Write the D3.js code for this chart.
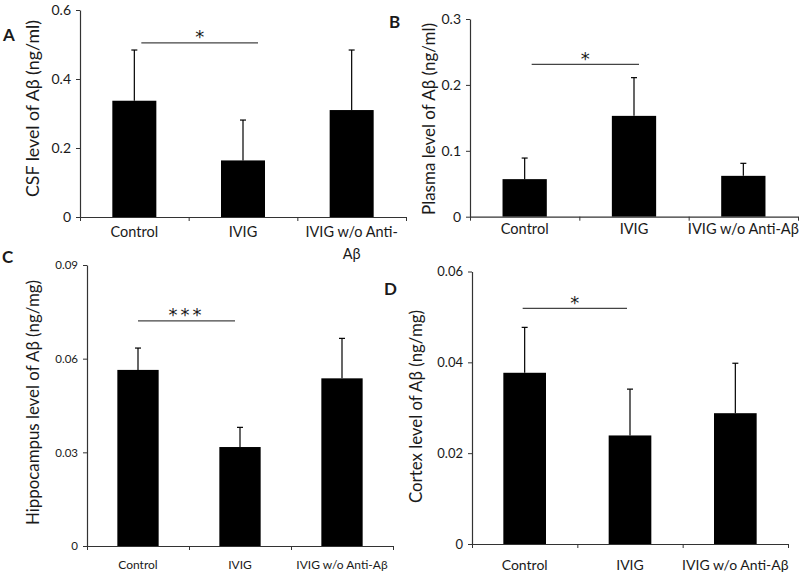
<!DOCTYPE html>
<html><head><meta charset="utf-8">
<script src="https://cdn.jsdelivr.net/npm/d3@7"></script>
<style>body{margin:0;background:#fff}svg{display:block}text{font-family:Lato,"Open Sans",sans-serif;fill:#1a1a1a}</style>
</head><body><svg id="c" width="800" height="576"></svg>
<script>
const categories = ["Control", "IVIG", "IVIG w/o Anti-Aβ"];

const csfMeans = [0.337, 0.164, 0.310];
const csfErrors = [0.147, 0.117, 0.174];
const csfTicks = [0, 0.2, 0.4, 0.6];
const csfTickLabels = ["0", "0.2", "0.4", "0.6"];

const plasmaMeans = [0.057, 0.153, 0.062];
const plasmaErrors = [0.032, 0.058, 0.019];
const plasmaTicks = [0, 0.1, 0.2, 0.3];
const plasmaTickLabels = ["0", "0.1", "0.2", "0.3"];

const hippoMeans = [0.0564, 0.0317, 0.0537];
const hippoErrors = [0.0070, 0.0063, 0.0128];
const hippoTicks = [0, 0.03, 0.06, 0.09];
const hippoTickLabels = ["0", "0.03", "0.06", "0.09"];

const cortexMeans = [0.0377, 0.0239, 0.0288];
const cortexErrors = [0.0100, 0.0102, 0.0110];
const cortexTicks = [0, 0.02, 0.04, 0.06];
const cortexTickLabels = ["0", "0.02", "0.04", "0.06"];

const panelLetters = ["A", "B", "C", "D"];
const yTitles = ["CSF level of Aβ (ng/ml)", "Plasma level of Aβ (ng/ml)", "Hippocampus  level of Aβ (ng/mg)", "Cortex level of Aβ (ng/mg)"];
const sigLabels = ["*", "*", "***", "*"];
const sigLevels = [0.505, 0.231, 0.0721, 0.0519];

const svg = d3.select("#c");

const panels = [
  {means: csfMeans, errs: csfErrors, ticks: csfTicks, tl: csfTickLabels, x0: 80, x1: 406, y0: 217, y1: 10,
   letter: [3, 41], title: [33, 108.5, 177], tickFs: 14, labFs: 14.5, labY: 237, wrap: true, sigOff: [7, 15]},
  {means: plasmaMeans, errs: plasmaErrors, ticks: plasmaTicks, tl: plasmaTickLabels, x0: 470, x1: 798, y0: 216.7, y1: 19,
   letter: [389, 28], title: [429, 119, 192], tickFs: 14, labFs: 14.6, labY: 234, wrap: false, sigOff: [7, 5]},
  {means: hippoMeans, errs: hippoErrors, ticks: hippoTicks, tl: hippoTickLabels, x0: 87, x1: 393, y0: 546, y1: 265,
   letter: [2, 263], title: [33, 402.5, 245], tickFs: 11.5, labFs: 12, labY: 569, wrap: false, sigOff: [0, -5]},
  {means: cortexMeans, errs: cortexErrors, ticks: cortexTicks, tl: cortexTickLabels, x0: 472, x1: 788, y0: 544, y1: 271.5,
   letter: [384, 295], title: [416, 406.5, 193], tickFs: 13, labFs: 14, labY: 570, wrap: false, sigOff: [-2, -3]}
];

panels.forEach((p, i) => {
  const g = svg.append("g");
  const y = d3.scaleLinear().domain([0, p.ticks[p.ticks.length - 1]]).range([p.y0, p.y1]);
  const x = d3.scaleBand().domain(categories).range([p.x0, p.x1]).paddingInner(0.595).paddingOuter(0.2975);

  // y axis
  const yAxis = d3.axisLeft(y).tickValues(p.ticks).tickFormat((d, k) => p.tl[k]).tickSize(4).tickSizeOuter(0).tickPadding(5);
  const ya = g.append("g").attr("transform", `translate(${p.x0},0)`).call(yAxis);
  ya.select(".domain").attr("stroke", "#333").attr("stroke-width", 1.2);
  ya.selectAll(".tick line").attr("stroke", "#333");
  ya.selectAll(".tick text").attr("font-size", p.tickFs).attr("font-family", "Lato").attr("fill", "#1a1a1a");

  // bars
  g.selectAll("rect.bar").data(p.means).join("rect")
    .attr("x", (d, k) => x(categories[k]))
    .attr("width", x.bandwidth())
    .attr("y", d => y(d))
    .attr("height", d => y(0) - y(d))
    .attr("fill", "#000");

  // error bars
  const eg = g.append("g").attr("stroke", "#000").attr("stroke-width", 1.2);
  p.means.forEach((m, k) => {
    const cx = x(categories[k]) + x.bandwidth() / 2;
    eg.append("line").attr("x1", cx).attr("x2", cx).attr("y1", y(m)).attr("y2", y(m + p.errs[k]));
    eg.append("line").attr("x1", cx - 3).attr("x2", cx + 3).attr("y1", y(m + p.errs[k])).attr("y2", y(m + p.errs[k]));
  });

  // x axis with boundary ticks
  const xb = d3.scaleLinear().domain([0, 3]).range([p.x0, p.x1]);
  const xAxis = d3.axisBottom(xb).tickValues([0, 1, 2, 3]).tickFormat("").tickSize(4).tickSizeOuter(0);
  const xa = g.append("g").attr("transform", `translate(0,${p.y0})`).call(xAxis);
  xa.select(".domain").attr("stroke", "#333").attr("stroke-width", 1.2);
  xa.selectAll(".tick line").attr("stroke", "#333");

  // category labels
  categories.forEach((c, k) => {
    const cx = x(c) + x.bandwidth() / 2;
    if (p.wrap && k === 2) {
      g.append("text").attr("x", cx).attr("y", p.labY).attr("text-anchor", "middle").attr("font-size", p.labFs).text("IVIG w/o Anti-");
      g.append("text").attr("x", cx).attr("y", p.labY + 22).attr("text-anchor", "middle").attr("font-size", p.labFs).text("Aβ");
    } else {
      g.append("text").attr("x", cx).attr("y", p.labY).attr("text-anchor", "middle").attr("font-size", p.labFs).text(c);
    }
  });

  // y title
  g.append("text").attr("transform", `translate(${p.title[0] + 6},${p.title[1]}) rotate(-90)`)
    .attr("text-anchor", "middle").attr("font-size", 16.5)
    .attr("textLength", p.title[2]).attr("lengthAdjust", "spacingAndGlyphs").text(yTitles[i]);

  // panel letter
  g.append("text").attr("x", p.letter[0]).attr("y", p.letter[1]).attr("font-size", 17).attr("font-weight", "bold")
    .attr("font-family", "Liberation Sans, Arial, sans-serif").attr("fill", "#000").text(panelLetters[i]);

  // significance
  const c0 = x(categories[0]) + x.bandwidth() / 2 + p.sigOff[0];
  const c1 = x(categories[1]) + x.bandwidth() / 2 + p.sigOff[1];
  const sy = y(sigLevels[i]);
  g.append("line").attr("x1", c0).attr("x2", c1).attr("y1", sy).attr("y2", sy).attr("stroke", "#444").attr("stroke-width", 1.2);
  g.append("text").attr("x", (c0 + c1) / 2).attr("y", sy + 0.5).attr("text-anchor", "middle")
    .attr("font-size", 18).attr("letter-spacing", i === 2 ? 3 : 0)
    .style("font-family", "DejaVu Sans").attr("fill", "#222").text(sigLabels[i]);
});
</script></body></html>
